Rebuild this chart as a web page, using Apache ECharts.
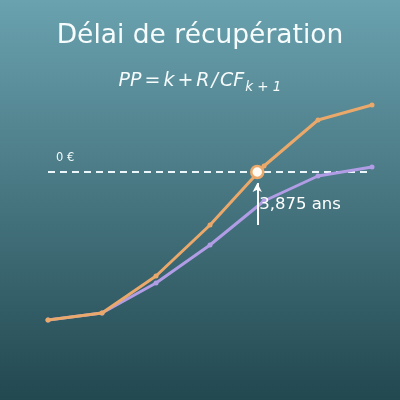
<!DOCTYPE html>
<html>
<head>
<meta charset="utf-8">
<script src="https://cdn.jsdelivr.net/npm/echarts@6/dist/echarts.min.js"></script>
<style>html,body{margin:0;padding:0;}#c{width:400px;height:400px;}</style>
</head>
<body>
<div id="c"></div>
<script>
var years = [0, 1, 2, 3, 4, 5, 6];
var cumulCF = [-148, -141, -104, -53, 6, 52, 67];
var cumulDCF = [-148, -141, -111, -73, -29, -4, 5];
var payback = 3.875;
var paybackLabel = '3,875 ans';
var zeroLabel = '0 €';
var titleText = 'Délai de récupération';

var chart = echarts.init(document.getElementById('c'));
var font = 'DejaVu Sans';
chart.setOption({
  backgroundColor: {type:'linear', x:0, y:0, x2:0, y2:1, colorStops:[{offset:0,color:'#6aa2af'},{offset:1,color:'#224850'}]},
  animation: false,
  title: {
    text: titleText, left: 'center', top: 18,
    textStyle: {color:'#f6fbfc', fontSize: 26.5, fontWeight:'normal', fontFamily: font}
  },
  graphic: [{
    type: 'text', left: 'center', top: 72,
    style: {
      text: '{i|PP}{n|=}{i|k}{n|+}{i|R}{sl|/}{i|CF}{s|k + 1}',
      rich: {
        i: {fontStyle:'italic', fontSize:19, fontFamily:font, fill:'#f6fbfc', verticalAlign:'top', lineHeight:23},
        n: {fontSize:19, fontFamily:font, fill:'#f6fbfc', verticalAlign:'top', lineHeight:23, padding:[0,3,0,3]},
        sl: {fontStyle:'italic', fontSize:19, fontFamily:font, fill:'#f6fbfc', verticalAlign:'top', lineHeight:23, padding:[0,2,0,2]},
        s: {fontStyle:'italic', fontSize:13.5, fontFamily:font, fill:'#f6fbfc', verticalAlign:'top', padding:[8,0,0,1], lineHeight:23}
      }
    }
  }],
  grid: {left: 48, right: 28, top: 72, height: 300},
  xAxis: {type:'value', min:0, max:6, show:false},
  yAxis: {type:'value', min:-200, max:100, show:false},
  series: [
    {
      type:'line', data:[[0,0],[6,0]], symbol:'none', z:1,
      lineStyle:{color:'#eaf6fa', width:2, type:[7,5]}, silent:true
    },
    {
      type:'line', data: years.map(function(x,i){return [x, cumulDCF[i]];}), z:2,
      symbol:'circle', symbolSize:5, itemStyle:{color:'#b19de6'},
      lineStyle:{color:'#b19de6', width:3}
    },
    {
      type:'line', data: years.map(function(x,i){return [x, cumulCF[i]];}), z:3,
      symbol:'circle', symbolSize:5, itemStyle:{color:'#eaa96a'},
      lineStyle:{color:'#eaa96a', width:3},
      markLine: {
        silent:true, symbol:['none','arrow'], symbolSize:[7,9],
        lineStyle:{color:'#ffffff', width:2, type:'solid'}, label:{show:false},
        data: [[{coord:[payback,-53]},{coord:[payback,-11]}]]
      }
    },
    {
      type:'scatter', data:[[payback,0]], z:5, symbolSize:12,
      itemStyle:{color:'#fffaf2', borderColor:'#eaa96a', borderWidth:2.5, opacity:1}
    },
    {
      type:'scatter', data:[[payback,-33]], z:5, symbolSize:0, silent:true,
      itemStyle:{opacity:1},
      label:{show:true, position:'right', distance:2, formatter: paybackLabel, color:'#ffffff', fontSize:16.5, fontFamily:font}
    },
    {
      type:'scatter', data:[[0.15,14]], z:5, symbolSize:0, silent:true,
      itemStyle:{opacity:1},
      label:{show:true, position:'right', distance:0, formatter: zeroLabel, color:'#f2f9fb', fontSize:11.5, fontFamily:font}
    }
  ]
});
</script>
</body>
</html>
